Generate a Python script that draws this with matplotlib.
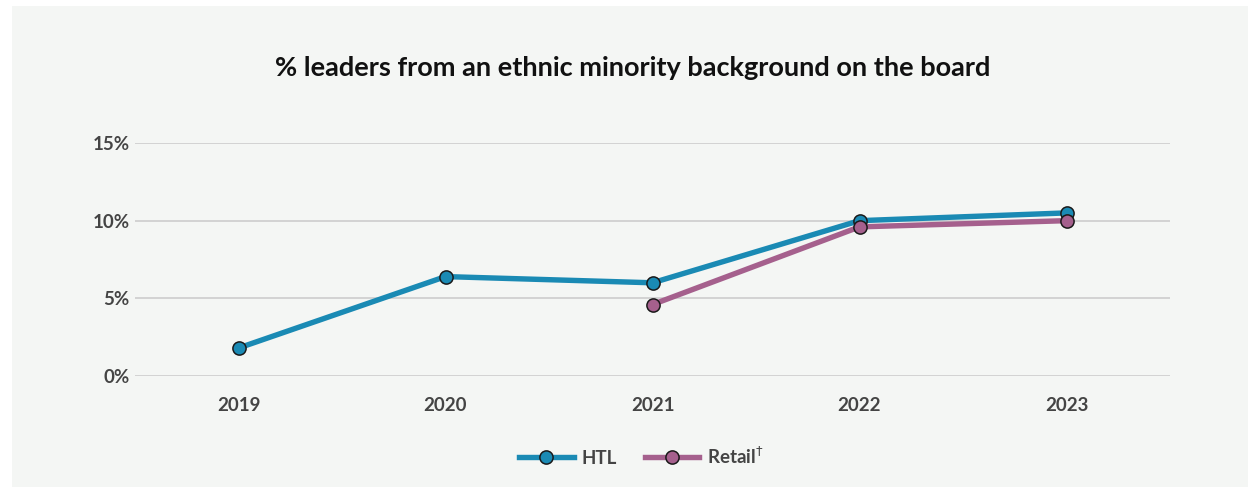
import matplotlib.pyplot as plt
import matplotlib.patches as mpatches
from matplotlib.ticker import FuncFormatter

years = ["2019", "2020", "2021", "2022", "2023"]
htl = [1.8, 6.4, 6.0, 10.0, 10.5]
retail_years = ["2021", "2022", "2023"]
retail = [4.6, 9.6, 10.0]

bg = "#f4f6f4"
htl_color = "#1a8ab4"
retail_color = "#a5608d"
text_color = "#444444"

plt.rcParams['font.family'] = ['Lato', 'DejaVu Sans']

fig = plt.figure(figsize=(12.48, 4.87), dpi=100)
fig.patch.set_facecolor("white")
fig.patches.append(mpatches.Rectangle((12 / 1248, 0), 1 - 12 / 1248, 1 - 6 / 487,
                                      transform=fig.transFigure, facecolor=bg,
                                      edgecolor="none", zorder=-10))

ax = fig.add_axes([135 / 1248, 111 / 487, 1035 / 1248, 233 / 487])
ax.set_facecolor(bg)
ax.patch.set_alpha(0)

x_htl = [years.index(y) for y in years]
x_ret = [years.index(y) for y in retail_years]

ax.plot(x_htl, htl, color=htl_color, lw=3.9, marker="o", ms=9.5,
        mfc=htl_color, mec="#1a1a1a", mew=1.1, label="HTL", zorder=3, clip_on=False)
ax.plot(x_ret, retail, color=retail_color, lw=3.9, marker="o", ms=9.5,
        mfc=retail_color, mec="#1a1a1a", mew=1.1, label=r"Retail$^{\dagger}$",
        zorder=4, clip_on=False)

ax.set_xlim(-0.5, 4.5)
ax.set_ylim(0, 15)
ax.set_yticks([0, 5, 10, 15])
ax.yaxis.set_major_formatter(FuncFormatter(lambda v, p: f"{v:.0f}%"))
ax.set_xticks(range(len(years)))
ax.set_xticklabels(years)
ax.grid(axis="y", color="#d3d3d3", lw=1.4)
ax.set_axisbelow(True)
for s in ax.spines.values():
    s.set_visible(False)
ax.tick_params(length=0, labelsize=13.5, labelcolor=text_color)
ax.tick_params(axis="y", pad=4)
ax.tick_params(axis="x", pad=15)
for lab in ax.get_xticklabels() + ax.get_yticklabels():
    lab.set_fontweight("bold")

fig.text(0.507, 1 - 68 / 487, "% leaders from an ethnic minority background on the board",
         ha="center", va="center", fontsize=19.5, fontweight="bold", color="#111111")

# legend sits under the x labels, nudged a little left
leg = ax.legend(loc="center", bbox_to_anchor=(0.489, (456 - 376) / -233), ncol=2,
                frameon=False, fontsize=13.5, handlelength=2.9, columnspacing=1.5,
                handletextpad=0.4)
for t in leg.get_texts():
    t.set_color(text_color)
    t.set_fontweight("bold")

fig.savefig("out.png", dpi=100, facecolor=fig.get_facecolor())
